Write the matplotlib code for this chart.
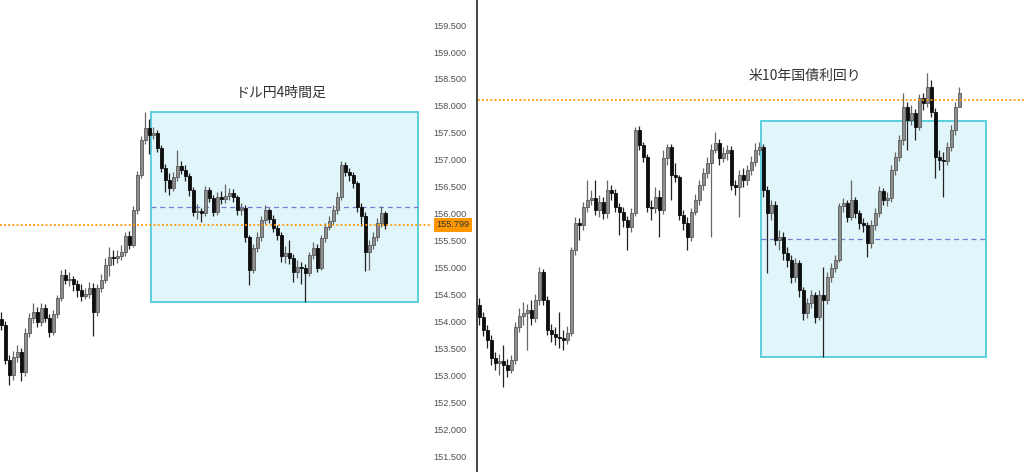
import numpy as np
import matplotlib
matplotlib.use("Agg")
import matplotlib.pyplot as plt
from matplotlib.patches import Rectangle
import matplotlib.transforms as mtransforms

plt.rcParams['font.family'] = ['Noto Sans CJK JP', 'DejaVu Sans']

# ---------------- USD/JPY 4h candles ----------------
usd_open = [154.05, 153.94, 153.30, 153.02, 153.35, 153.44, 153.07, 153.80, 154.07, 154.19,
            154.00, 154.26, 154.07, 153.82, 154.15, 154.44, 154.87, 154.78, 154.80, 154.70,
            154.59, 154.48, 154.52, 154.63, 154.19, 154.63, 154.78, 155.06, 155.20, 155.19,
            155.22, 155.30, 155.59, 155.43, 156.07, 156.72, 157.37, 157.59, 157.46, 157.50,
            157.22, 156.85, 156.63, 156.48, 156.69, 156.89, 156.82, 156.70, 156.44, 156.04,
            156.06, 156.02, 156.44, 156.30, 156.04, 156.31, 156.27, 156.33, 156.39, 156.31,
            156.07, 156.11, 155.57, 154.96, 155.37, 155.57, 155.89, 156.07, 155.91, 155.74,
            155.61, 155.22, 155.28, 155.19, 154.93, 155.02, 155.00, 154.91, 155.24, 155.37,
            155.00, 155.56, 155.76, 155.87, 156.07, 156.31, 156.91, 156.78, 156.72, 156.57,
            156.13, 155.96, 155.30, 155.43, 155.57, 155.83, 156.02]
usd_high = [154.18, 154.02, 153.38, 153.47, 153.58, 153.52, 153.88, 154.16, 154.35, 154.28,
            154.36, 154.33, 154.14, 154.22, 154.50, 154.96, 154.98, 154.92, 154.86, 154.78,
            154.70, 154.63, 154.74, 154.72, 154.70, 154.88, 155.18, 155.38, 155.33, 155.34,
            155.42, 155.66, 155.68, 156.14, 156.80, 157.45, 157.89, 157.76, 157.62, 157.56,
            157.28, 156.92, 156.75, 156.78, 157.19, 156.98, 156.90, 156.76, 156.50, 156.18,
            156.12, 156.52, 156.50, 156.36, 156.40, 156.42, 156.56, 156.48, 156.46, 156.36,
            156.20, 156.16, 155.62, 155.44, 155.66, 155.96, 156.17, 156.12, 155.98, 155.80,
            155.66, 155.40, 155.52, 155.26, 155.14, 155.12, 155.08, 155.30, 155.48, 155.44,
            155.62, 155.84, 155.96, 156.16, 156.40, 156.98, 156.96, 156.86, 156.78, 156.62,
            156.20, 156.04, 155.52, 155.66, 155.92, 156.14, 156.06]
usd_low = [153.85, 153.22, 152.83, 152.93, 153.26, 152.90, 153.00, 153.72, 153.98, 153.90,
           153.93, 154.00, 153.72, 153.76, 154.08, 154.38, 154.70, 154.66, 154.58, 154.46,
           154.38, 154.42, 154.45, 153.74, 154.12, 154.55, 154.72, 154.85, 155.06, 155.10,
           155.14, 155.22, 155.36, 155.38, 156.00, 156.66, 157.30, 157.12, 157.38, 157.15,
           156.78, 156.40, 156.36, 156.42, 156.62, 156.74, 156.62, 156.34, 155.96, 155.90,
           155.86, 155.96, 156.22, 155.96, 155.98, 156.18, 156.20, 156.25, 156.22, 155.98,
           155.98, 155.48, 154.69, 154.90, 155.30, 155.50, 155.82, 155.84, 155.66, 155.52,
           155.12, 155.10, 155.08, 154.74, 154.82, 154.70, 154.37, 154.85, 155.16, 154.92,
           154.96, 155.48, 155.70, 155.80, 156.00, 156.25, 156.70, 156.62, 156.48, 156.04,
           155.78, 154.95, 154.96, 155.36, 155.50, 155.76, 155.72]
usd_close = [153.94, 153.30, 153.02, 153.35, 153.44, 153.07, 153.80, 154.07, 154.19, 154.00,
             154.26, 154.07, 153.82, 154.15, 154.44, 154.87, 154.78, 154.80, 154.70, 154.59,
             154.48, 154.52, 154.63, 154.19, 154.63, 154.78, 155.06, 155.20, 155.19, 155.22,
             155.30, 155.59, 155.43, 156.07, 156.72, 157.37, 157.59, 157.46, 157.50, 157.22,
             156.85, 156.63, 156.48, 156.69, 156.89, 156.82, 156.70, 156.44, 156.04, 156.06,
             156.02, 156.44, 156.30, 156.04, 156.31, 156.27, 156.33, 156.39, 156.31, 156.07,
             156.11, 155.57, 154.96, 155.37, 155.57, 155.89, 156.07, 155.91, 155.74, 155.61,
             155.22, 155.28, 155.19, 154.93, 155.02, 155.00, 154.91, 155.24, 155.37, 155.00,
             155.56, 155.76, 155.87, 156.07, 156.31, 156.91, 156.78, 156.72, 156.57, 156.13,
             155.96, 155.30, 155.43, 155.57, 155.83, 156.02, 155.799]
usd_ticks = [151.5, 152.0, 152.5, 153.0, 153.5, 154.0, 154.5, 155.0, 155.5,
             156.0, 156.5, 157.0, 157.5, 158.0, 158.5, 159.0, 159.5]
usd_last = 155.799
usd_box_top, usd_box_bottom = 157.89, 154.37
usd_title = "ドル円4時間足"

# ---------------- US 10y yield candles ----------------
yld_open = [4.190, 4.166, 4.140, 4.120, 4.084, 4.074, 4.078, 4.070, 4.060, 4.080,
            4.146, 4.168, 4.174, 4.180, 4.164, 4.200, 4.256, 4.200, 4.140, 4.132,
            4.126, 4.124, 4.120, 4.134, 4.300, 4.354, 4.350, 4.386, 4.400, 4.404,
            4.380, 4.396, 4.374, 4.420, 4.414, 4.386, 4.376, 4.360, 4.346, 4.374,
            4.540, 4.510, 4.486, 4.386, 4.384, 4.406, 4.380, 4.484, 4.506, 4.450,
            4.446, 4.370, 4.354, 4.326, 4.376, 4.400, 4.430, 4.454, 4.474, 4.500,
            4.514, 4.484, 4.494, 4.500, 4.430, 4.426, 4.450, 4.440, 4.460, 4.476,
            4.500, 4.506, 4.420, 4.374, 4.390, 4.320, 4.326, 4.294, 4.280, 4.246,
            4.274, 4.220, 4.174, 4.194, 4.210, 4.166, 4.210, 4.200, 4.246, 4.264,
            4.280, 4.388, 4.394, 4.366, 4.400, 4.374, 4.354, 4.350, 4.314, 4.350,
            4.374, 4.418, 4.400, 4.404, 4.460, 4.486, 4.520, 4.586, 4.560, 4.574,
            4.546, 4.604, 4.594, 4.626, 4.576, 4.486, 4.480, 4.478, 4.506, 4.540,
            4.586]
yld_high = [4.204, 4.176, 4.150, 4.130, 4.096, 4.092, 4.110, 4.082, 4.090, 4.156,
            4.184, 4.196, 4.192, 4.200, 4.212, 4.266, 4.262, 4.208, 4.152, 4.146,
            4.176, 4.140, 4.148, 4.306, 4.366, 4.364, 4.396, 4.440, 4.420, 4.440,
            4.410, 4.406, 4.440, 4.430, 4.422, 4.394, 4.386, 4.368, 4.384, 4.546,
            4.548, 4.516, 4.492, 4.400, 4.426, 4.420, 4.500, 4.512, 4.512, 4.474,
            4.450, 4.380, 4.366, 4.384, 4.412, 4.440, 4.464, 4.486, 4.512, 4.536,
            4.522, 4.506, 4.510, 4.508, 4.440, 4.460, 4.464, 4.470, 4.488, 4.514,
            4.516, 4.512, 4.428, 4.400, 4.398, 4.340, 4.336, 4.306, 4.290, 4.284,
            4.280, 4.226, 4.204, 4.220, 4.216, 4.220, 4.266, 4.256, 4.274, 4.290,
            4.394, 4.404, 4.400, 4.440, 4.406, 4.380, 4.364, 4.356, 4.360, 4.384,
            4.428, 4.424, 4.416, 4.470, 4.496, 4.530, 4.614, 4.596, 4.590, 4.582,
            4.612, 4.614, 4.654, 4.640, 4.584, 4.500, 4.496, 4.516, 4.550, 4.596,
            4.626]
yld_low = [4.150, 4.128, 4.104, 4.070, 4.060, 4.050, 4.026, 4.046, 4.054, 4.072,
           4.136, 4.150, 4.100, 4.150, 4.156, 4.190, 4.190, 4.130, 4.116, 4.110,
           4.104, 4.100, 4.112, 4.128, 4.290, 4.320, 4.340, 4.376, 4.390, 4.370,
           4.366, 4.362, 4.364, 4.400, 4.376, 4.330, 4.346, 4.300, 4.336, 4.368,
           4.500, 4.476, 4.376, 4.360, 4.374, 4.326, 4.372, 4.470, 4.400, 4.436,
           4.360, 4.340, 4.300, 4.318, 4.370, 4.390, 4.420, 4.444, 4.326, 4.494,
           4.470, 4.476, 4.480, 4.420, 4.410, 4.366, 4.426, 4.430, 4.450, 4.468,
           4.490, 4.406, 4.254, 4.360, 4.310, 4.300, 4.280, 4.266, 4.234, 4.236,
           4.206, 4.160, 4.164, 4.184, 4.154, 4.160, 4.086, 4.192, 4.236, 4.256,
           4.276, 4.376, 4.356, 4.360, 4.364, 4.342, 4.336, 4.286, 4.304, 4.340,
           4.366, 4.390, 4.388, 4.396, 4.450, 4.478, 4.510, 4.500, 4.550, 4.520,
           4.540, 4.580, 4.586, 4.566, 4.444, 4.460, 4.406, 4.470, 4.498, 4.530,
           4.600]
yld_close = [4.166, 4.140, 4.120, 4.084, 4.074, 4.078, 4.070, 4.060, 4.080, 4.146,
             4.168, 4.174, 4.180, 4.164, 4.200, 4.256, 4.200, 4.140, 4.132, 4.126,
             4.124, 4.120, 4.134, 4.300, 4.354, 4.350, 4.386, 4.400, 4.404, 4.380,
             4.396, 4.374, 4.420, 4.414, 4.386, 4.376, 4.360, 4.346, 4.374, 4.540,
             4.510, 4.486, 4.386, 4.384, 4.406, 4.380, 4.484, 4.506, 4.450, 4.446,
             4.370, 4.354, 4.326, 4.376, 4.400, 4.430, 4.454, 4.474, 4.500, 4.514,
             4.484, 4.494, 4.500, 4.430, 4.426, 4.450, 4.440, 4.460, 4.476, 4.500,
             4.506, 4.420, 4.374, 4.390, 4.320, 4.326, 4.294, 4.280, 4.246, 4.274,
             4.220, 4.174, 4.194, 4.210, 4.166, 4.210, 4.200, 4.246, 4.264, 4.280,
             4.388, 4.394, 4.366, 4.400, 4.374, 4.354, 4.350, 4.314, 4.350, 4.374,
             4.418, 4.400, 4.404, 4.460, 4.486, 4.520, 4.586, 4.560, 4.574, 4.546,
             4.604, 4.594, 4.626, 4.576, 4.486, 4.480, 4.478, 4.506, 4.540, 4.586,
             4.614]
yld_last = 4.600
yld_box_top, yld_box_bottom = 4.558, 4.086
yld_title = "米10年国債利回り"

# ---------------- layout / style ----------------
W, H = 1024, 472
UP_FACE, UP_EDGE = '#8e8e8e', '#5a5a5a'
DN_FACE = '#0d0d0d'
BOX_FACE, BOX_EDGE = '#e1f6fa', '#5ccfdf'
MID_COL = '#7a78d0'
ORANGE = '#ff9800'

fig = plt.figure(figsize=(W / 100, H / 100), dpi=100, facecolor='white')
axL = fig.add_axes([0, 0, 477 / W, 1])
axR = fig.add_axes([478 / W, 0, (W - 478) / W, 1])


def draw_candles(ax, o, h, l, c):
    o, h, l, c = map(np.asarray, (o, h, l, c))
    x = np.arange(len(o))
    up = c >= o
    ax.vlines(x[up], l[up], h[up], colors='#666666', linewidth=0.9, zorder=3)
    ax.vlines(x[~up], l[~up], h[~up], colors='#222222', linewidth=0.9, zorder=3)
    bottom = np.minimum(o, c)
    height = np.abs(c - o)
    ax.bar(x[up], height[up], bottom=bottom[up], width=0.75, color=UP_FACE,
           edgecolor=UP_EDGE, linewidth=0.6, zorder=4)
    ax.bar(x[~up], height[~up], bottom=bottom[~up], width=0.75, color=DN_FACE,
           edgecolor=DN_FACE, linewidth=0.6, zorder=4)


def draw_box(ax, x0, x1, top, bottom):
    ax.add_patch(Rectangle((x0, bottom), x1 - x0, top - bottom, facecolor=BOX_FACE,
                           edgecolor=BOX_EDGE, linewidth=1.4, zorder=1))
    mid = (top + bottom) / 2
    ax.plot([x0, x1], [mid, mid], color=MID_COL, linewidth=0.9,
            linestyle=(0, (4, 3)), zorder=2)


# ---- left panel (USD/JPY) ----
axL.set_xlim(-0.25, 119.0)
axL.set_ylim(151.222, 159.963)
draw_box(axL, 37.5, 104.25, usd_box_top, usd_box_bottom)
draw_candles(axL, usd_open, usd_high, usd_low, usd_close)
axL.plot([-0.25, 107.75], [usd_last, usd_last], color=ORANGE, linewidth=1.3,
         linestyle=(0, (1, 1.3)), zorder=5)
axL.set_xticks([])
axL.set_yticks(usd_ticks)
axL.set_yticklabels([f"{t:.3f}" for t in usd_ticks])
axL.tick_params(axis='y', left=False, right=False, labelleft=False, labelright=True,
                length=0, pad=-7.5, labelsize=6.6, labelcolor='#505050',
                labelfontfamily='Liberation Sans')
for lbl in axL.get_yticklabels():
    lbl.set_horizontalalignment('right')
for s in ('left', 'top', 'bottom'):
    axL.spines[s].set_visible(False)
axL.spines['right'].set_color('#444444')
axL.spines['right'].set_linewidth(1.4)
trans = mtransforms.blended_transform_factory(axL.transAxes, axL.transData)
axL.text(469.5 / 477, usd_last, f"{usd_last:.3f}", transform=trans, ha='right', va='center',
         fontsize=6.6, color='#333333', family='Liberation Sans', zorder=6,
         bbox=dict(boxstyle='square,pad=0.3', facecolor=ORANGE, edgecolor='none'))

# ---- right panel (US 10y) ----
axR.set_xlim(-0.25, 136.25)
axR.set_ylim(3.856, 4.80)
draw_box(axR, 70.5, 126.75, yld_box_top, yld_box_bottom)
draw_candles(axR, yld_open, yld_high, yld_low, yld_close)
axR.plot([-0.25, 136.25], [yld_last, yld_last], color=ORANGE, linewidth=1.3,
         linestyle=(0, (1, 1.3)), zorder=5)
axR.set_xticks([])
axR.set_yticks([])
for s in axR.spines.values():
    s.set_visible(False)
axR.patch.set_alpha(0)

# ---- titles ----
fig.text(281 / W, 1 - 93 / H, usd_title, ha='center', va='center', fontsize=10, color='#333333')
fig.text(805 / W, 1 - 76 / H, yld_title, ha='center', va='center', fontsize=10, color='#333333')

fig.savefig('out.png', dpi=100, facecolor='white')
